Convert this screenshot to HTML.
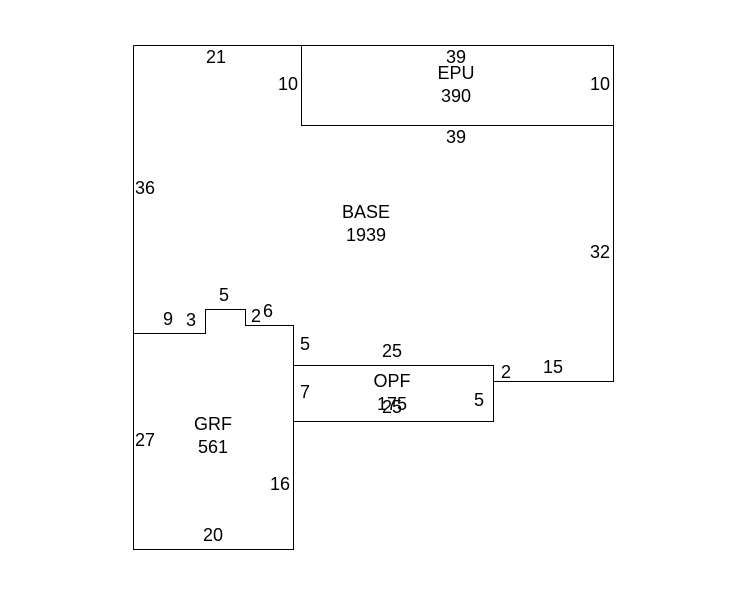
<!DOCTYPE html>
<html><head><style>
html,body{margin:0;padding:0;background:#fff;width:746px;height:595px;overflow:hidden}
svg text{font-family:"Liberation Sans",Arial,sans-serif;font-size:18px;fill:#000;text-anchor:middle}
</style></head><body>
<svg width="746" height="595" viewBox="0 0 746 595" xmlns="http://www.w3.org/2000/svg">
<g fill="none" stroke="#000" stroke-width="1" shape-rendering="crispEdges">
<path d="M133.5 45.5 H613.5 V381.5 H493.5"/>
<path d="M133.5 45.5 V549.5 H293.5 V325.5 H245.5 V309.5 H205.5 V333.5 H133.5"/>
<path d="M301.5 45.5 V125.5 H613.5"/>
<path d="M293.5 365.5 H493.5 V421.5 H293.5"/>
</g>
<text x="216" y="63">21</text>
<text x="288" y="90">10</text>
<text x="456" y="63">39</text>
<text x="456" y="79">EPU</text>
<text x="456" y="102">390</text>
<text x="600" y="90">10</text>
<text x="456" y="143">39</text>
<text x="145" y="194">36</text>
<text x="366" y="218">BASE</text>
<text x="366" y="241">1939</text>
<text x="600" y="258">32</text>
<text x="224" y="301">5</text>
<text x="168" y="325">9</text>
<text x="191" y="326">3</text>
<text x="256" y="322">2</text>
<text x="268" y="317">6</text>
<text x="305" y="350">5</text>
<text x="392" y="357">25</text>
<text x="506" y="378">2</text>
<text x="553" y="373">15</text>
<text x="392" y="387">OPF</text>
<text x="392" y="413">25</text>
<text x="392" y="410">175</text>
<text x="305" y="398">7</text>
<text x="479" y="406">5</text>
<text x="145" y="446">27</text>
<text x="213" y="430">GRF</text>
<text x="213" y="453">561</text>
<text x="280" y="490">16</text>
<text x="213" y="541">20</text>
</svg>
</body></html>
